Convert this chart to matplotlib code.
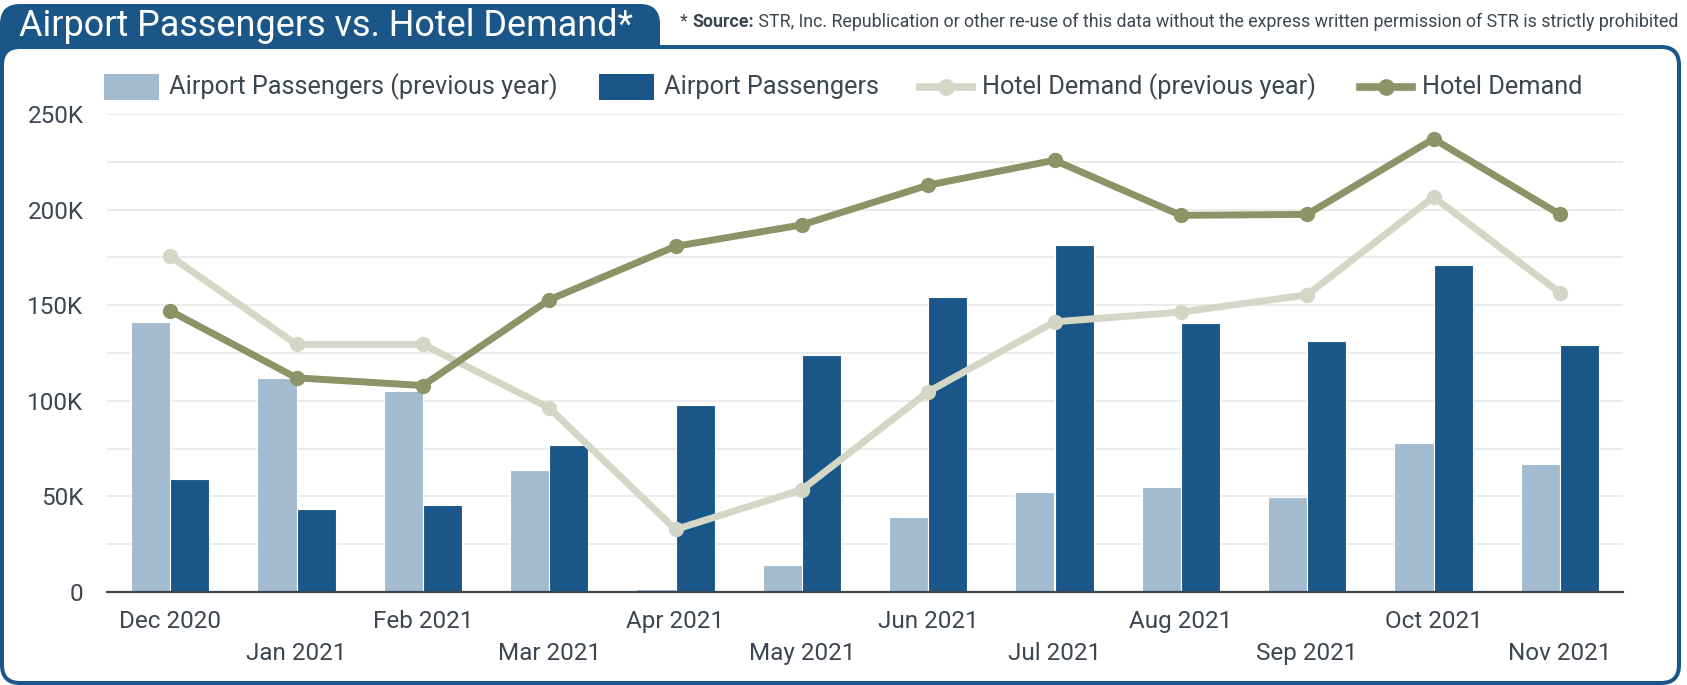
import numpy as np
import matplotlib
matplotlib.use('Agg')
import matplotlib.pyplot as plt
from matplotlib.patches import FancyBboxPatch, Rectangle
from matplotlib.lines import Line2D
from matplotlib.ticker import FuncFormatter, MultipleLocator

plt.rcParams['font.family'] = ['Roboto', 'DejaVu Sans']

# data
months = ['Dec 2020', 'Jan 2021', 'Feb 2021', 'Mar 2021', 'Apr 2021', 'May 2021',
          'Jun 2021', 'Jul 2021', 'Aug 2021', 'Sep 2021', 'Oct 2021', 'Nov 2021']
pax_prev = [141000, 112000, 105000, 64000, 1700, 14000, 39000, 52500, 54700, 49500, 77700, 67000]
pax = [59000, 43500, 45500, 76800, 97600, 124000, 154500, 181500, 140800, 131300, 170800, 129000]
hotel_prev = [175700, 129500, 129500, 96300, 32700, 53500, 104700, 141300, 146400, 155400, 206600, 156500]
hotel = [147000, 112000, 108000, 152800, 180800, 192000, 212800, 225800, 197000, 197500, 237000, 197500]

BLUE = '#1a5788'
LBLUE = '#a3bbcf'
OLIVE = '#8b9467'
LOLIVE = '#d4d6c6'
TXT = '#3c4650'

W, H = 1687, 685
fig = plt.figure(figsize=(W / 100, H / 100), dpi=100)

# background layer in pixel coords (frame, title tab, legend)
bg = fig.add_axes([0, 0, 1, 1], zorder=0)
bg.set_xlim(0, W)
bg.set_ylim(H, 0)
bg.axis('off')

bg.add_patch(FancyBboxPatch((0, 4), 660, 80, boxstyle='round,pad=0,rounding_size=20',
                            fc=BLUE, ec='none'))
bg.add_patch(FancyBboxPatch((2, 47), 1677, 636, boxstyle='round,pad=0,rounding_size=18',
                            fc='white', ec=BLUE, lw=2.9))
bg.text(19, 26, 'Airport Passengers vs. Hotel Demand*', color='white', fontsize=25.9,
        va='center', ha='left')

t1 = bg.text(680, 22, '* ', fontsize=12.8, color=TXT, va='center', ha='left')
t2 = bg.annotate('Source:', xy=(1, 0), xycoords=t1, fontsize=12.8, color=TXT,
                 fontweight='bold', va='bottom', ha='left')
bg.annotate(' STR, Inc. Republication or other re-use of this data without the express '
            'written permission of STR is strictly prohibited', xy=(1, 0), xycoords=t2,
            fontsize=12.8, color=TXT, va='bottom', ha='left')

# legend
leg_y = 87
leg_items = [
    ('patch', LBLUE, 104, 'Airport Passengers (previous year)'),
    ('patch', BLUE, 599, 'Airport Passengers'),
    ('line', LOLIVE, 920, 'Hotel Demand (previous year)'),
    ('line', OLIVE, 1360, 'Hotel Demand'),
]
for kind, col, x0, label in leg_items:
    if kind == 'patch':
        bg.add_patch(Rectangle((x0, leg_y - 13), 55, 26, fc=col, ec='none'))
        tx = x0 + 65
    else:
        bg.add_line(Line2D([x0, x0 + 52], [leg_y, leg_y], color=col, lw=5.5))
        bg.plot([x0 + 26], [leg_y], 'o', color=col, ms=11)
        tx = x0 + 62
    bg.text(tx, leg_y, label, fontsize=18.2, color=TXT, va='center', ha='left')

# main chart
ax = fig.add_axes([107 / W, 93 / H, 1516 / W, 478 / H], zorder=1)
ax.patch.set_alpha(0)
x = np.arange(len(months))
bw = 0.31
ax.bar(x - bw / 2, pax_prev, bw, color=LBLUE, edgecolor='white', linewidth=0.8, zorder=2)
ax.bar(x + bw / 2, pax, bw, color=BLUE, edgecolor='white', linewidth=0.8, zorder=2)
ax.plot(x, hotel_prev, color=LOLIVE, lw=5, marker='o', ms=10, zorder=3, clip_on=False)
ax.plot(x, hotel, color=OLIVE, lw=5, marker='o', ms=10, zorder=4, clip_on=False)

ax.set_xlim(-0.5, len(months) - 0.5)
ax.set_ylim(0, 250000)
ax.yaxis.set_major_locator(MultipleLocator(50000))
ax.yaxis.set_minor_locator(MultipleLocator(25000))
ax.yaxis.set_major_formatter(FuncFormatter(lambda v, p: '0' if v == 0 else f'{int(v / 1000)}K'))
ax.grid(axis='y', which='both', color='#e6e6e6', lw=1.1, zorder=0)
ax.set_axisbelow(True)
for s in ['top', 'right', 'left']:
    ax.spines[s].set_visible(False)
ax.spines['bottom'].set_color('#3b4650')
ax.spines['bottom'].set_linewidth(1.6)
ax.spines['bottom'].set_zorder(5)
ax.tick_params(axis='y', which='both', length=0, labelsize=17.5, labelcolor=TXT, pad=17)
ax.tick_params(axis='x', length=0, labelsize=17.5, labelcolor=TXT)
ax.set_xticks(x)
ax.set_xticklabels(months)
for i, tick in enumerate(ax.xaxis.get_major_ticks()):
    tick.set_pad(13 if i % 2 == 0 else 36)

fig.savefig('out.png', dpi=100)
